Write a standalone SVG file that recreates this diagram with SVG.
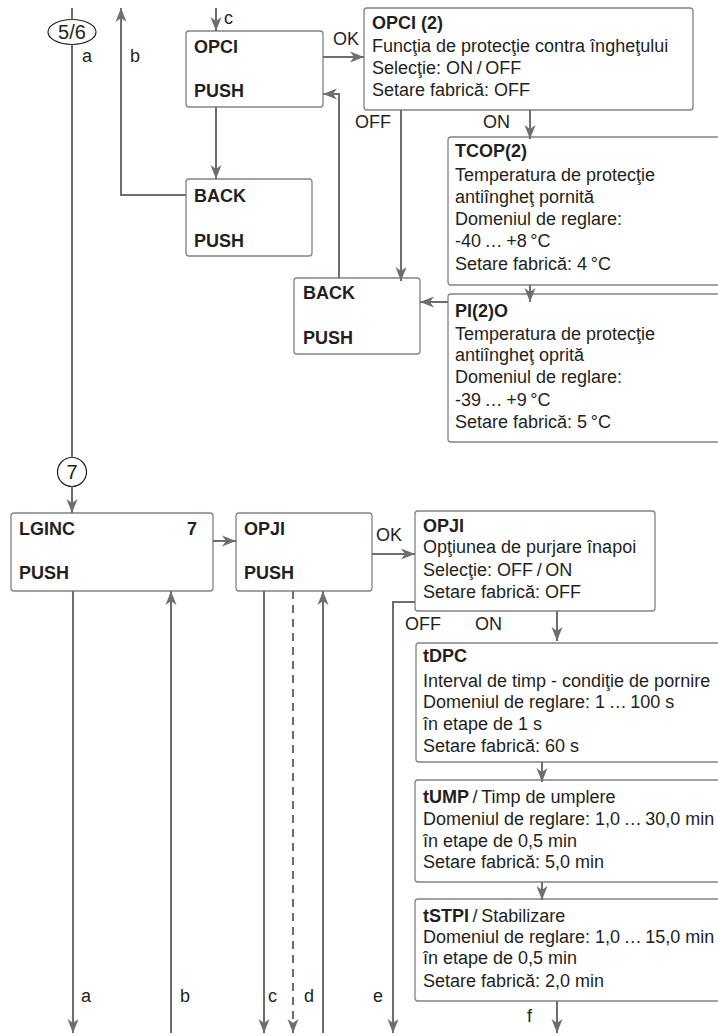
<svg xmlns="http://www.w3.org/2000/svg" width="718" height="1036" viewBox="0 0 718 1036">
<defs>
<style>
text{font-family:"Liberation Sans",Arial,sans-serif;font-size:18px;fill:#231f20}
.b{font-weight:bold}
.m{text-anchor:middle;font-size:20px}
.box{fill:#fff;stroke:#808285;stroke-width:1.3}
.ln{fill:none;stroke:#6d6e71;stroke-width:2}
.ar{marker-end:url(#ah)}
.dash{stroke-dasharray:8 6}
</style>
<marker id="ah" markerUnits="userSpaceOnUse" markerWidth="16" markerHeight="14" viewBox="0 -7 16 14" refX="14" refY="0" orient="auto">
<path d="M0,-5.5 L14,0 L0,5.5 L4,0 Z" fill="#6d6e71"/>
</marker>
</defs>
<rect width="718" height="1036" fill="#fff"/>

<g id="conn-56">
<ellipse cx="72" cy="32" rx="24" ry="12.5" fill="#fff" stroke="#231f20" stroke-width="1.2"/>
<text class="m" x="72" y="39">5/6</text>
</g>
<g id="conn-7">
<circle cx="72" cy="472" r="14.5" fill="#fff" stroke="#231f20" stroke-width="1.2"/>
<text class="m" x="72" y="479">7</text>
</g>

<g id="opci">
<rect class="box" x="186" y="31" width="137" height="76" rx="3"/>
<text class="b" x="194" y="53">OPCI</text>
<text class="b" x="194" y="97">PUSH</text>
</g>
<g id="back1">
<rect class="box" x="186" y="179" width="126" height="77" rx="3"/>
<text class="b" x="194" y="202">BACK</text>
<text class="b" x="194" y="247">PUSH</text>
</g>
<g id="opci2">
<rect class="box" x="364" y="8" width="329" height="102" rx="3"/>
<text class="b" x="372" y="29">OPCI (2)</text>
<text x="372" y="52">Funcţia de protecţie contra îngheţului</text>
<text x="372" y="74">Selecţie: ON&#8201;/&#8201;OFF</text>
<text x="372" y="96">Setare fabrică: OFF</text>
</g>
<g id="tcop">
<rect class="box" x="448" y="137" width="290" height="148" rx="3"/>
<text class="b" x="455" y="157">TCOP(2)</text>
<text x="455" y="181">Temperatura de protecţie</text>
<text x="455" y="203">antiîngheţ pornită</text>
<text x="455" y="225">Domeniul de reglare:</text>
<text x="455" y="247">-40&#8201;…&#8201;+8&#8201;°C</text>
<text x="455" y="270">Setare fabrică: 4&#8201;°C</text>
</g>
<g id="back2">
<rect class="box" x="294" y="278" width="126" height="76" rx="3"/>
<text class="b" x="303" y="299">BACK</text>
<text class="b" x="303" y="344">PUSH</text>
</g>
<g id="pi2o">
<rect class="box" x="448" y="294" width="290" height="148" rx="3"/>
<text class="b" x="455" y="317">PI(2)O</text>
<text x="455" y="340">Temperatura de protecţie</text>
<text x="455" y="361">antiîngheţ oprită</text>
<text x="455" y="383">Domeniul de reglare:</text>
<text x="455" y="406">-39&#8201;…&#8201;+9&#8201;°C</text>
<text x="455" y="428">Setare fabrică: 5&#8201;°C</text>
</g>
<g id="lginc">
<rect class="box" x="11" y="513" width="202" height="78" rx="3"/>
<text class="b" x="19" y="535">LGINC</text>
<text class="b" x="187" y="535">7</text>
<text class="b" x="19" y="579">PUSH</text>
</g>
<g id="opji">
<rect class="box" x="236" y="513" width="136" height="78" rx="3"/>
<text class="b" x="244" y="535">OPJI</text>
<text class="b" x="244" y="579">PUSH</text>
</g>
<g id="opji2">
<rect class="box" x="415" y="511" width="240" height="100" rx="3"/>
<text class="b" x="423" y="532">OPJI</text>
<text x="423" y="553">Opţiunea de purjare înapoi</text>
<text x="423" y="576">Selecţie: OFF&#8201;/&#8201;ON</text>
<text x="423" y="598">Setare fabrică: OFF</text>
</g>
<g id="tdpc">
<rect class="box" x="416" y="643" width="320" height="119" rx="3"/>
<text class="b" x="423" y="662">tDPC</text>
<text x="423" y="687">Interval de timp - condiţie de pornire</text>
<text x="423" y="708">Domeniul de reglare: 1&#8201;…&#8201;100 s</text>
<text x="423" y="730">în etape de 1 s</text>
<text x="423" y="752">Setare fabrică: 60 s</text>
</g>
<g id="tump">
<rect class="box" x="415" y="780" width="320" height="102" rx="3"/>
<text x="423" y="803"><tspan class="b">tUMP</tspan>&#8201;/&#8201;Timp de umplere</text>
<text x="423" y="825">Domeniul de reglare: 1,0&#8201;…&#8201;30,0 min</text>
<text x="423" y="847">în etape de 0,5 min</text>
<text x="423" y="868">Setare fabrică: 5,0 min</text>
</g>
<g id="tstpi">
<rect class="box" x="415" y="899" width="320" height="102" rx="3"/>
<text x="423" y="922"><tspan class="b">tSTPI</tspan>&#8201;/&#8201;Stabilizare</text>
<text x="423" y="943">Domeniul de reglare: 1,0&#8201;…&#8201;15,0 min</text>
<text x="423" y="964">în etape de 0,5 min</text>
<text x="423" y="987">Setare fabrică: 2,0 min</text>
</g>

<g id="connectors">
<path class="ln" d="M72,8 V19.5"/>
<path class="ln" d="M72,44.5 V457.5"/>
<path class="ln ar" d="M72,486.5 V513"/>
<path class="ln ar" d="M186,195 H121 V8"/>
<path class="ln ar" d="M216,8 V31"/>
<path class="ln ar" d="M323,57 H364"/>
<path class="ln ar" d="M216,107 V179"/>
<path class="ln ar" d="M401,110 V281"/>
<path class="ln ar" d="M530,110 V139"/>
<path class="ln ar" d="M339,278 V94 H323"/>
<path class="ln ar" d="M530,285 V302"/>
<path class="ln ar" d="M448,302 H420"/>
<path class="ln ar" d="M213,541 H236"/>
<path class="ln ar" d="M372,554 H415"/>
<path class="ln ar" d="M415,602 H393 V1033"/>
<path class="ln ar" d="M557,611 V641"/>
<path class="ln ar" d="M542,762 V782"/>
<path class="ln ar" d="M542,882 V900"/>
<path class="ln ar" d="M557,1001 V1033"/>
<path class="ln ar" d="M73,591 V1033"/>
<path class="ln ar" d="M171,1033 V591"/>
<path class="ln ar" d="M264,591 V1033"/>
<path class="ln ar dash" d="M293,591 V1033"/>
<path class="ln ar" d="M323,1033 V591"/>
<text x="82" y="62">a</text>
<text x="130" y="62">b</text>
<text x="224" y="24">c</text>
<text x="333" y="45">OK</text>
<text x="355" y="128">OFF</text>
<text x="483" y="128">ON</text>
<text x="376" y="541">OK</text>
<text x="405" y="630">OFF</text>
<text x="475" y="630">ON</text>
<text x="527" y="1022">f</text>
<text x="81" y="1002">a</text>
<text x="180" y="1002">b</text>
<text x="268" y="1002">c</text>
<text x="304" y="1002">d</text>
<text x="373" y="1002">e</text>
</g>
</svg>
